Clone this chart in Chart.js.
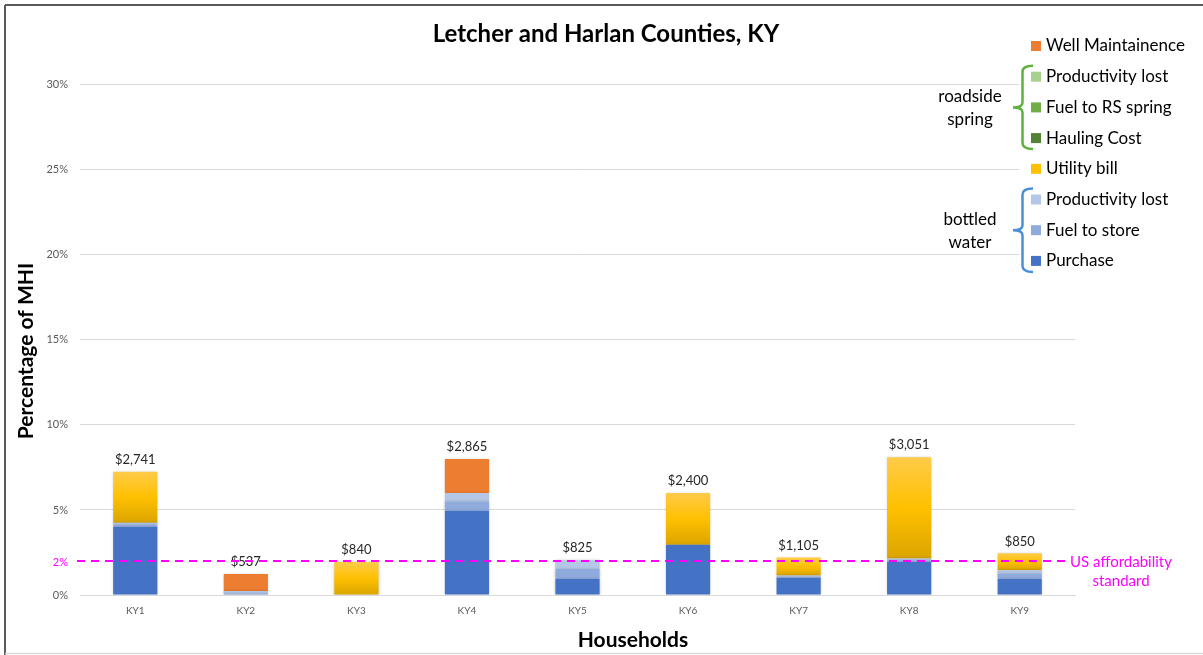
<!DOCTYPE html>
<html>
<head>
<meta charset="utf-8">
<title>Letcher and Harlan Counties, KY</title>
<script src="https://cdn.jsdelivr.net/npm/chart.js@4/dist/chart.umd.min.js"></script>
<style>
  html, body { margin: 0; padding: 0; background: #fff; }
  canvas { display: block; }
</style>
</head>
<body>
<canvas id="chart" width="1203" height="655"></canvas>
<script>
// Households
const households = ['KY1', 'KY2', 'KY3', 'KY4', 'KY5', 'KY6', 'KY7', 'KY8', 'KY9'];

// Cost components, % of median household income
const purchase      = [4.0, 0,    0,    4.95, 0.95, 2.95, 1.0,  1.95, 0.95];
const fuelToStore   = [0.15, 0.1, 0,    0.55, 0.6,  0,    0.08, 0.1,  0.3];
const prodLostBW    = [0.1, 0.13, 0,    0.5,  0.5,  0,    0.07, 0.1,  0.2];
const utilityBill   = [3.0, 0,    1.94, 0,    0,    3.05, 1.05, 5.95, 1.0];
const haulingCost   = [0,   0,    0,    0,    0,    0,    0,    0,    0];
const fuelToSpring  = [0,   0,    0,    0,    0,    0,    0,    0,    0];
const prodLostRS    = [0,   0,    0,    0,    0,    0,    0,    0,    0];
const wellMaint     = [0,   1.0,  0,    2.0,  0,    0,    0,    0,    0];

// Annual household water cost (USD)
const annualCost = [2741, 537, 840, 2865, 825, 2400, 1105, 3051, 850];

// Y axis ticks and the affordability threshold
const yTicks = [0, 5, 10, 15, 20, 25, 30];
const affordability = 2;

const FONT = 'Lato, "Open Sans", sans-serif';
const MAGENTA = '#FF00FF';
const UTIL = '#FFC000';

// Vertical gradient over each utility-bill segment
function utilityFill(ctx) {
  const chart = ctx.chart;
  const { chartArea, scales } = chart;
  if (!chartArea || ctx.type !== 'data' || !scales.y) return UTIL;
  const i = ctx.dataIndex;
  const base = purchase[i] + fuelToStore[i] + prodLostBW[i];
  const y0 = scales.y.getPixelForValue(base);
  const y1 = scales.y.getPixelForValue(base + utilityBill[i]);
  if (!isFinite(y0) || !isFinite(y1) || Math.abs(y0 - y1) < 1) return UTIL;
  const g = chart.ctx.createLinearGradient(0, y1, 0, y0);
  g.addColorStop(0, '#FFCB4A');
  g.addColorStop(0.5, '#FFC000');
  g.addColorStop(1, '#DBA500');
  return g;
}

const datasets = [
  { label: 'Purchase',          data: purchase,     backgroundColor: '#4472C4', group: 'bw' },
  { label: 'Fuel to store',     data: fuelToStore,  backgroundColor: '#8FAADC', group: 'bw' },
  { label: 'Productivity lost', data: prodLostBW,   backgroundColor: '#B4C7E7', group: 'bw' },
  { label: 'Utility bill',      data: utilityBill,  backgroundColor: utilityFill, legendColor: UTIL },
  { label: 'Hauling Cost',      data: haulingCost,  backgroundColor: '#548235', group: 'rs' },
  { label: 'Fuel to RS spring', data: fuelToSpring, backgroundColor: '#70AD47', group: 'rs' },
  { label: 'Productivity lost', data: prodLostRS,   backgroundColor: '#A9D18E', group: 'rs' },
  { label: 'Well Maintainence', data: wellMaint,    backgroundColor: '#ED7D31' }
].map(d => Object.assign({ barPercentage: 0.4, categoryPercentage: 1.0, borderWidth: 0, yAxisID: 'y' }, d));

// Frame around the chart
const framePlugin = {
  id: 'frame',
  beforeDraw(chart) {
    const c = chart.ctx;
    c.save();
    c.fillStyle = '#fff';
    c.fillRect(0, 0, chart.width, chart.height);
    c.strokeStyle = '#595959';
    c.lineWidth = 2;
    c.beginPath();
    c.moveTo(5, 5); c.lineTo(chart.width, 5);
    c.moveTo(5, 5); c.lineTo(5, chart.height);
    c.stroke();
    c.strokeStyle = '#D9D9D9';
    c.lineWidth = 1.5;
    c.beginPath();
    c.moveTo(5, 653.5); c.lineTo(chart.width, 653.5);
    c.stroke();
    c.restore();
  },
  // soft drop shadow behind the bars
  beforeDatasetsDraw(chart) {
    const c = chart.ctx;
    c.save();
    c.shadowColor = 'rgba(0,0,0,0.22)';
    c.shadowBlur = 3;
    c.shadowOffsetX = 0;
    c.shadowOffsetY = 0;
  },
  afterDatasetsDraw(chart) {
    chart.ctx.restore();
  }
};

// Axis titles, cost labels above the stacks and the affordability line
const overlayPlugin = {
  id: 'overlay',
  afterDatasetsDraw(chart) {
    const c = chart.ctx;
    const { x, y } = chart.scales;
    const area = chart.chartArea;
    c.save();
    // axis titles
    c.fillStyle = '#000';
    c.font = 'bold 21px ' + FONT;
    c.textAlign = 'center';
    c.textBaseline = 'middle';
    c.fillText('Households', 633, 640);
    c.save();
    c.translate(26, 351);
    c.rotate(-Math.PI / 2);
    c.fillText('Percentage of MHI', 0, 0);
    c.restore();
    // totals
    c.font = '13px ' + FONT;
    c.fillStyle = '#262626';
    households.forEach((h, i) => {
      const total = chart.data.datasets.reduce((s, ds) => s + (ds.data[i] || 0), 0);
      c.fillText('$' + annualCost[i].toLocaleString('en-US'), x.getPixelForValue(i), y.getPixelForValue(total) - 12);
    });
    // affordability standard
    const ya = y.getPixelForValue(affordability);
    c.strokeStyle = MAGENTA;
    c.lineWidth = 2;
    c.setLineDash([8, 6]);
    c.beginPath();
    c.moveTo(area.left - 3, ya);
    c.lineTo(area.right - 10, ya);
    c.stroke();
    c.setLineDash([]);
    c.fillStyle = MAGENTA;
    c.font = '11px ' + FONT;
    c.textAlign = 'right';
    c.fillText(affordability + '%', area.left - 12, ya + 1);
    c.font = '15px ' + FONT;
    c.textAlign = 'center';
    c.fillText('US affordability', area.right + 46, ya + 1);
    c.fillText('standard', area.right + 46, ya + 20);
    c.restore();
  }
};

// Grouped legend with braces
const legendPlugin = {
  id: 'groupedLegend',
  afterDraw(chart) {
    const c = chart.ctx;
    const items = chart.data.datasets.slice().reverse();
    const x0 = 1031, rowTop = 46, rowGap = 30.7;
    c.save();
    c.fillStyle = '#fff';
    c.fillRect(1019, 28, chart.width - 1019, 258);
    c.textBaseline = 'middle';
    c.font = '17px ' + FONT;
    const rows = {};
    items.forEach((ds, k) => {
      const yc = rowTop + k * rowGap;
      c.fillStyle = ds.legendColor || ds.backgroundColor;
      c.fillRect(x0, yc - 5, 10, 10);
      c.fillStyle = '#000';
      c.textAlign = 'left';
      c.fillText(ds.label, x0 + 15, yc);
      if (ds.group) (rows[ds.group] = rows[ds.group] || []).push(yc);
    });
    const brace = (ys, color, lines) => {
      const top = Math.min(...ys) - 11, bot = Math.max(...ys) + 11, mid = (top + bot) / 2;
      const xv = 1022.5;
      c.strokeStyle = color;
      c.lineWidth = 2.5;
      c.beginPath();
      c.moveTo(1033, top);
      c.quadraticCurveTo(xv, top, xv, top + 6);
      c.lineTo(xv, mid - 5);
      c.quadraticCurveTo(xv, mid, 1013, mid);
      c.quadraticCurveTo(xv, mid, xv, mid + 5);
      c.lineTo(xv, bot - 6);
      c.quadraticCurveTo(xv, bot, 1033, bot);
      c.stroke();
      c.fillStyle = '#000';
      c.textAlign = 'center';
      c.fillText(lines[0], 970, mid - 11);
      c.fillText(lines[1], 970, mid + 12);
    };
    brace(rows.rs, '#5DB13C', ['roadside', 'spring']);
    brace(rows.bw, '#4A90D9', ['bottled', 'water']);
    c.restore();
  }
};

new Chart(document.getElementById('chart'), {
  type: 'bar',
  data: { labels: households, datasets },
  plugins: [framePlugin, overlayPlugin, legendPlugin],
  options: {
    responsive: false,
    animation: false,
    layout: { padding: { left: 9, right: 0, top: 0, bottom: 0 } },
    plugins: {
      legend: { display: false },
      tooltip: { enabled: false },
      title: {
        display: true,
        text: 'Letcher and Harlan Counties, KY',
        color: '#000',
        font: { family: FONT, size: 24, weight: 'bold' },
        padding: { top: 20, bottom: 36 }
      }
    },
    scales: {
      x: {
        stacked: true,
        grid: { display: false, drawTicks: false },
        border: { color: '#D9D9D9' },
        ticks: { color: '#595959', font: { family: FONT, size: 10 }, padding: 10 },
        afterFit(scale) { scale.height = 60; }
      },
      y: {
        stacked: true,
        min: 0,
        max: 30,
        afterBuildTicks(scale) { scale.ticks = yTicks.map(v => ({ value: v })); },
        grid: { color: '#D9D9D9', drawTicks: false },
        border: { display: false },
        ticks: {
          color: '#595959',
          font: { family: FONT, size: 11 },
          padding: 12,
          callback: v => v + '%'
        },
        afterFit(scale) { scale.width = 71; }
      },
      // empty right-hand band that holds the legend and the threshold note
      side: {
        position: 'right',
        min: 0,
        max: 30,
        grid: { display: false, drawTicks: false },
        border: { display: false },
        ticks: { display: false },
        afterFit(scale) { scale.width = 128; }
      }
    }
  }
});
</script>
</body>
</html>
